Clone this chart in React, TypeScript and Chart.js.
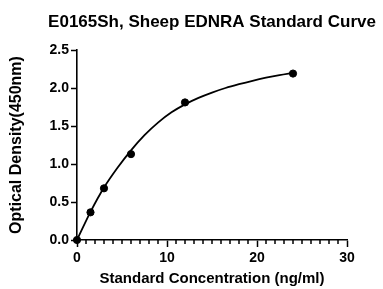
import React, { useEffect, useRef } from "react";
import { Chart, registerables } from "chart.js";

Chart.register(...registerables);

const TITLE = "E0165Sh, Sheep EDNRA Standard Curve";
const X_TITLE = "Standard Concentration (ng/ml)";
const Y_TITLE = "Optical Density(450nm)";

// Standard points
const stdConc = [0, 1.5, 3, 6, 12, 24];
const stdOD = [0, 0.364, 0.68, 1.13, 1.81, 2.19];

// Fitted curve
const curveConc = [0, 1.5, 3, 4.5, 6, 7.5, 9, 10.5, 12, 13.5, 15, 16.5, 18, 19.5, 21, 22.5, 24];
const curveOD = [0, 0.37, 0.69, 0.95, 1.18, 1.38, 1.545, 1.68, 1.785, 1.87, 1.94, 2.0, 2.05, 2.095, 2.135, 2.17, 2.2];

const X_MIN = 0;
const X_MAX = 30;
const X_MAJOR = 10;
const Y_MIN = 0;
const Y_MAX = 2.5;
const Y_STEP = 0.5;

const FONT = "'Liberation Sans', Arial, Helvetica, sans-serif";

const titlePlugin = {
  id: "centerTitle",
  afterDraw(chart: any) {
    const { ctx, chartArea } = chart;
    ctx.save();
    ctx.font = `bold 17px ${FONT}`;
    ctx.fillStyle = "#000";
    ctx.textAlign = "center";
    ctx.textBaseline = "alphabetic";
    ctx.fillText(TITLE, (chartArea.left + chartArea.right) / 2, 26.5);
    ctx.restore();
  },
};

const minorTickPlugin = {
  id: "minorTicks",
  afterDraw(chart: any) {
    const { ctx } = chart;
    const xs = chart.scales.x;
    ctx.save();
    ctx.strokeStyle = "#000";
    ctx.lineWidth = 1.5;
    xs.ticks.forEach((t: any) => {
      if (t.value % X_MAJOR !== 0) {
        const px = xs.getPixelForValue(t.value);
        ctx.beginPath();
        ctx.moveTo(px, xs.top);
        ctx.lineTo(px, xs.top + 4);
        ctx.stroke();
      }
    });
    ctx.restore();
  },
};

export default function App() {
  const ref = useRef<HTMLCanvasElement>(null);

  useEffect(() => {
    if (!ref.current) return;
    const chart = new Chart(ref.current, {
      type: "scatter",
      data: {
        datasets: [
          {
            label: "curve",
            data: curveConc.map((x, i) => ({ x, y: curveOD[i] })),
            showLine: true,
            borderColor: "#000",
            borderWidth: 1.8,
            pointRadius: 0,
            cubicInterpolationMode: "monotone",
            clip: false,
          } as any,
          {
            label: "standards",
            data: stdConc.map((x, i) => ({ x, y: stdOD[i] })),
            backgroundColor: "#000",
            borderColor: "#000",
            pointRadius: 3.6,
            showLine: false,
            clip: false,
          } as any,
        ],
      },
      options: {
        animation: false,
        responsive: false,
        devicePixelRatio: 1,
        layout: { padding: { left: 0, right: 36, top: 50, bottom: 0 } },
        plugins: {
          legend: { display: false },
          tooltip: { enabled: false },
          title: { display: false },
        },
        scales: {
          x: {
            type: "linear",
            min: X_MIN,
            max: X_MAX,
            afterFit: (s: any) => {
              s.height = 49;
            },
            ticks: {
              stepSize: 1,
              autoSkip: false,
              maxRotation: 0,
              color: "#000",
              padding: 3,
              font: { family: FONT, size: 14, weight: "bold" },
              callback: (v: any) => (Number(v) % X_MAJOR === 0 ? String(v) : ""),
            },
            grid: {
              drawOnChartArea: false,
              drawTicks: true,
              tickLength: 7,
              tickWidth: 1.5,
              tickColor: (c: any) => (c.tick && c.tick.value % X_MAJOR === 0 ? "#000" : "rgba(0,0,0,0)"),
            },
            border: { display: true, color: "#000", width: 1.6 },
            title: {
              display: true,
              text: X_TITLE,
              color: "#000",
              font: { family: FONT, size: 15, weight: "bold" },
              padding: { top: 0, bottom: 1 },
            },
          },
          y: {
            type: "linear",
            min: Y_MIN,
            max: Y_MAX,
            afterFit: (s: any) => {
              s.width = 77;
            },
            ticks: {
              stepSize: Y_STEP,
              color: "#000",
              padding: 2,
              font: { family: FONT, size: 14, weight: "bold" },
              callback: (v: any) => Number(v).toFixed(1),
            },
            grid: {
              drawOnChartArea: false,
              drawTicks: true,
              tickLength: 6,
              tickWidth: 1.5,
              tickColor: "#000",
            },
            border: { display: true, color: "#000", width: 1.6 },
            title: {
              display: true,
              text: Y_TITLE,
              color: "#000",
              font: { family: FONT, size: 16, weight: "bold" },
              padding: { top: 7, bottom: 0 },
            },
          },
        },
      },
      plugins: [titlePlugin, minorTickPlugin],
    });
    return () => chart.destroy();
  }, []);

  return (
    <div style={{ position: "fixed", left: 0, top: 0, width: 383, height: 289, background: "#fff" }}>
      <canvas ref={ref} width={383} height={289} style={{ width: 383, height: 289, display: "block" }} />
    </div>
  );
}
